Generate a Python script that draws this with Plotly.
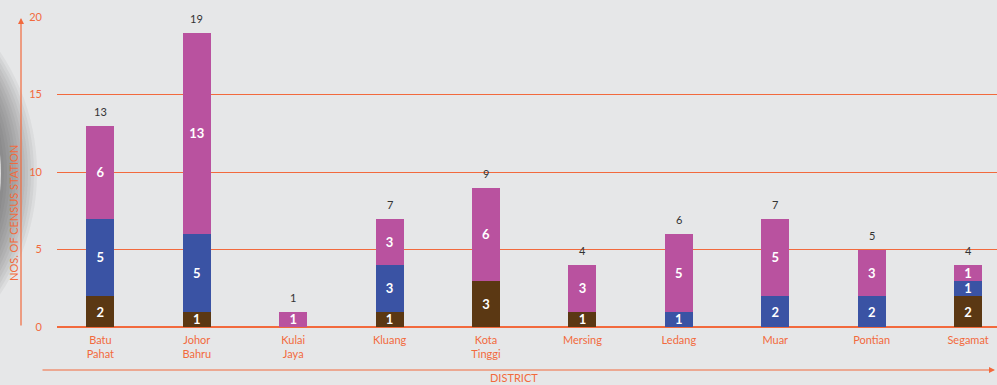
import plotly.graph_objects as go

districts = ["Batu<br>Pahat", "Johor<br>Bahru", "Kulai<br>Jaya", "Kluang", "Kota<br>Tinggi",
             "Mersing", "Ledang", "Muar", "Pontian", "Segamat"]
brown_vals = [2, 1, None, 1, 3, 1, None, None, None, 2]
blue_vals = [5, 5, None, 3, None, None, 1, 2, 2, 1]
magenta_vals = [6, 13, 1, 3, 6, 3, 5, 5, 3, 1]
totals = [13, 19, 1, 7, 9, 4, 6, 7, 5, 4]

ORANGE = "#F26A3D"
BG = "#E6E7E8"
FONT = "Lato"

W, H = 997, 385
L, R, T, B = 57, 0, 17, 58
PW, PH = W - L - R, H - T - B


def px(x):
    return (x - L) / PW


def py(y):
    return (H - B - y) / PH


fig = go.Figure()
for vals, col in [(brown_vals, "#5B3813"), (blue_vals, "#3A53A4"), (magenta_vals, "#B9529F")]:
    fig.add_trace(go.Bar(
        x=districts, y=vals, marker=dict(color=col, line=dict(width=0)),
        width=0.29, text=vals, texttemplate="%{text}", textposition="inside",
        insidetextanchor="middle", textangle=0, constraintext="none",
        textfont=dict(color="white", size=13, family=FONT, weight="bold"),
        hoverinfo="skip", showlegend=False,
    ))

# stack totals above each bar
annotations = [
    dict(x=d, y=t, text=str(t), showarrow=False, yanchor="bottom", yshift=6,
         font=dict(color="#333333", size=11, family=FONT))
    for d, t in zip(districts, totals)
]

# soft grey ring at the left edge
shapes = []
cx, cy = -181, 173
for r in range(218, 182, -3):
    shapes.append(dict(type="circle", xref="paper", yref="paper",
                       x0=px(cx - r), x1=px(cx + r), y0=py(cy + r), y1=py(cy - r),
                       fillcolor="rgba(60,60,60,0.055)", line=dict(width=0), layer="below"))
r = 182
shapes.append(dict(type="circle", xref="paper", yref="paper",
                   x0=px(cx - r), x1=px(cx + r), y0=py(cy + r), y1=py(cy - r),
                   fillcolor="#DCDCDC", line=dict(width=0), layer="below"))

annotations += [
    # y axis arrow
    dict(xref="paper", yref="paper", x=px(21), y=py(18), ax=0, ay=309,
         showarrow=True, arrowhead=2, arrowsize=1, arrowwidth=1.2, arrowcolor=ORANGE, text=""),
    # x axis arrow
    dict(xref="paper", yref="paper", x=px(995), y=py(370), ax=-954, ay=0,
         showarrow=True, arrowhead=2, arrowsize=1, arrowwidth=1.2, arrowcolor=ORANGE, text=""),
    dict(xref="paper", yref="paper", x=px(514), y=py(377), text="DISTRICT", showarrow=False,
         font=dict(color=ORANGE, size=11, family=FONT), xanchor="center", yanchor="middle"),
    dict(xref="paper", yref="paper", x=px(13), y=py(213), text="NOS. OF CENSUS STATION",
         showarrow=False, textangle=-90,
         font=dict(color=ORANGE, size=11, family=FONT), xanchor="center", yanchor="middle"),
]

fig.update_layout(
    barmode="stack", width=W, height=H,
    margin=dict(l=L, r=R, t=T, b=B, pad=0),
    paper_bgcolor=BG, plot_bgcolor=BG,
    shapes=shapes, annotations=annotations,
    font=dict(family=FONT, color=ORANGE, size=11),
    xaxis=dict(range=[-0.45, 9.3], showgrid=False, showline=False, ticks="",
               ticklabelstandoff=5,
               tickfont=dict(color=ORANGE, size=11, family=FONT), fixedrange=True),
    yaxis=dict(range=[0, 20], dtick=5, showgrid=True, gridcolor=ORANGE, gridwidth=1,
               zeroline=True, zerolinecolor=ORANGE, zerolinewidth=1.5, showline=False,
               ticks="", ticklabelstandoff=14, layer="above traces",
               tickfont=dict(color=ORANGE, size=11, family=FONT), fixedrange=True),
)

fig.write_html("out.html")
